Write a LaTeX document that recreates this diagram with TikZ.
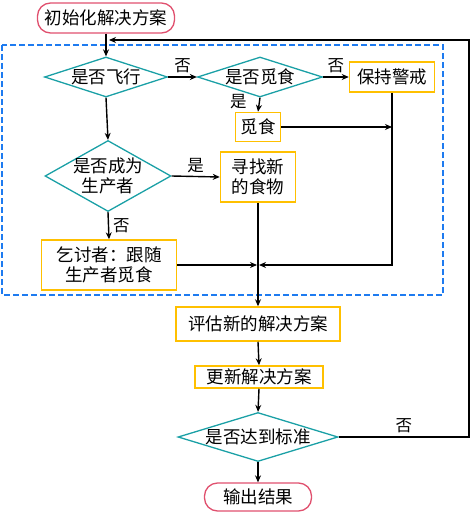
\documentclass[tikz,border=0pt]{standalone}
\usepackage{fontspec}
\setmainfont{Noto Sans CJK SC}
\usetikzlibrary{shapes.geometric,arrows.meta}
\definecolor{teal1}{HTML}{1AA0A6}
\definecolor{gold1}{HTML}{FFC000}
\definecolor{pink1}{HTML}{E0506E}
\definecolor{blue1}{HTML}{1E7BF0}
\tikzset{
  every node/.style={font=\fontsize{17.5}{20.5}\selectfont, inner sep=0pt, align=center},
  dec/.style={diamond, draw=teal1, line width=1.3pt},
  proc/.style={rectangle, draw=gold1, line width=1.5pt},
  term/.style={rectangle, rounded corners=13pt, draw=pink1, line width=1.3pt},
  conn/.style={line width=1.4pt, -{Stealth[length=7pt,width=6pt]}},
  lbl/.style={font=\fontsize{16.5}{19}\selectfont}
}
\begin{document}
\begin{tikzpicture}[x=1pt,y=-1pt]
\useasboundingbox (0,0) rectangle (472,519);
\draw[blue1, line width=1.6pt, dash pattern=on 6pt off 3pt] (2,45) rectangle (443,295);

\node[term, minimum width=137pt, minimum height=30pt] (init) at (106,18) {初始化解决方案};
\node[dec, minimum width=123pt, minimum height=40pt] (d1) at (106,77) {};
\node (t1) at (d1.center) {是否飞行};
\node[dec, minimum width=125pt, minimum height=40pt] (d2) at (260,77) {};
\node (t2) at (d2.center) {是否觅食};
\node[proc, minimum width=85pt, minimum height=30pt] (keep) at (392,77) {保持警戒};
\node[proc, minimum width=45pt, minimum height=29pt] (forage) at (258,127) {觅食};
\node[dec, minimum width=126pt, minimum height=71pt] (d3) at (108,176) {};
\node (t3) at (d3.center) {是否成为\\生产者};
\node[proc, minimum width=75pt, minimum height=50pt] (find) at (258,177) {寻找新\\的食物};
\node[proc, minimum width=135pt, minimum height=50pt] (beg) at (109,265) {乞讨者：跟随\\生产者觅食};
\node[proc, minimum width=164pt, minimum height=34pt] (eval) at (258,324) {评估新的解决方案};
\node[proc, minimum width=128pt, minimum height=22pt] (upd) at (259,377) {更新解决方案};
\node[dec, minimum width=160pt, minimum height=49pt] (d4) at (258,437) {};
\node (t4) at (d4.center) {是否达到标准};
\node[term, minimum width=107pt, minimum height=28pt] (out) at (258,497) {输出结果};

\coordinate (j) at (find.south |- beg.east);
\coordinate (loopR) at (469,437);
\coordinate (loopT) at (469,40);

\draw[conn] (init.south) -- (d1.north);
\draw[conn] (d1.east) -- node[lbl, above=3pt] {否} (d2.west);
\draw[conn] (d2.east) -- node[lbl, above=3pt] {否} (keep.west);
\draw[conn] (d2.south) -- node[lbl, left=12pt, pos=0.3] {是} (forage.north);
\draw[conn] (forage.east) -- (keep.south |- forage.east);
\draw[conn] (keep.south) -- (keep.south |- j) -- ([xshift=1pt]j);
\draw[conn] (d1.south) -- (d3.north);
\draw[conn] (d3.east) -- node[lbl, above=3pt] {是} (find.west);
\draw[conn] (d3.south) -- node[lbl, right=4pt] {否} (beg.north);
\draw[conn] (beg.east) -- ([xshift=-1pt]j);
\draw[conn] (find.south) -- (eval.north);
\draw[conn] (eval.south) -- (upd.north);
\draw[conn] (upd.south) -- (d4.north);
\draw[conn] (d4.south) -- (out.north);
\draw[conn] (d4.east) -- node[lbl, above=3pt, pos=0.5] {否} (loopR) -- (loopT) -- ([xshift=3pt]init.south |- loopT);
\end{tikzpicture}
\end{document}
